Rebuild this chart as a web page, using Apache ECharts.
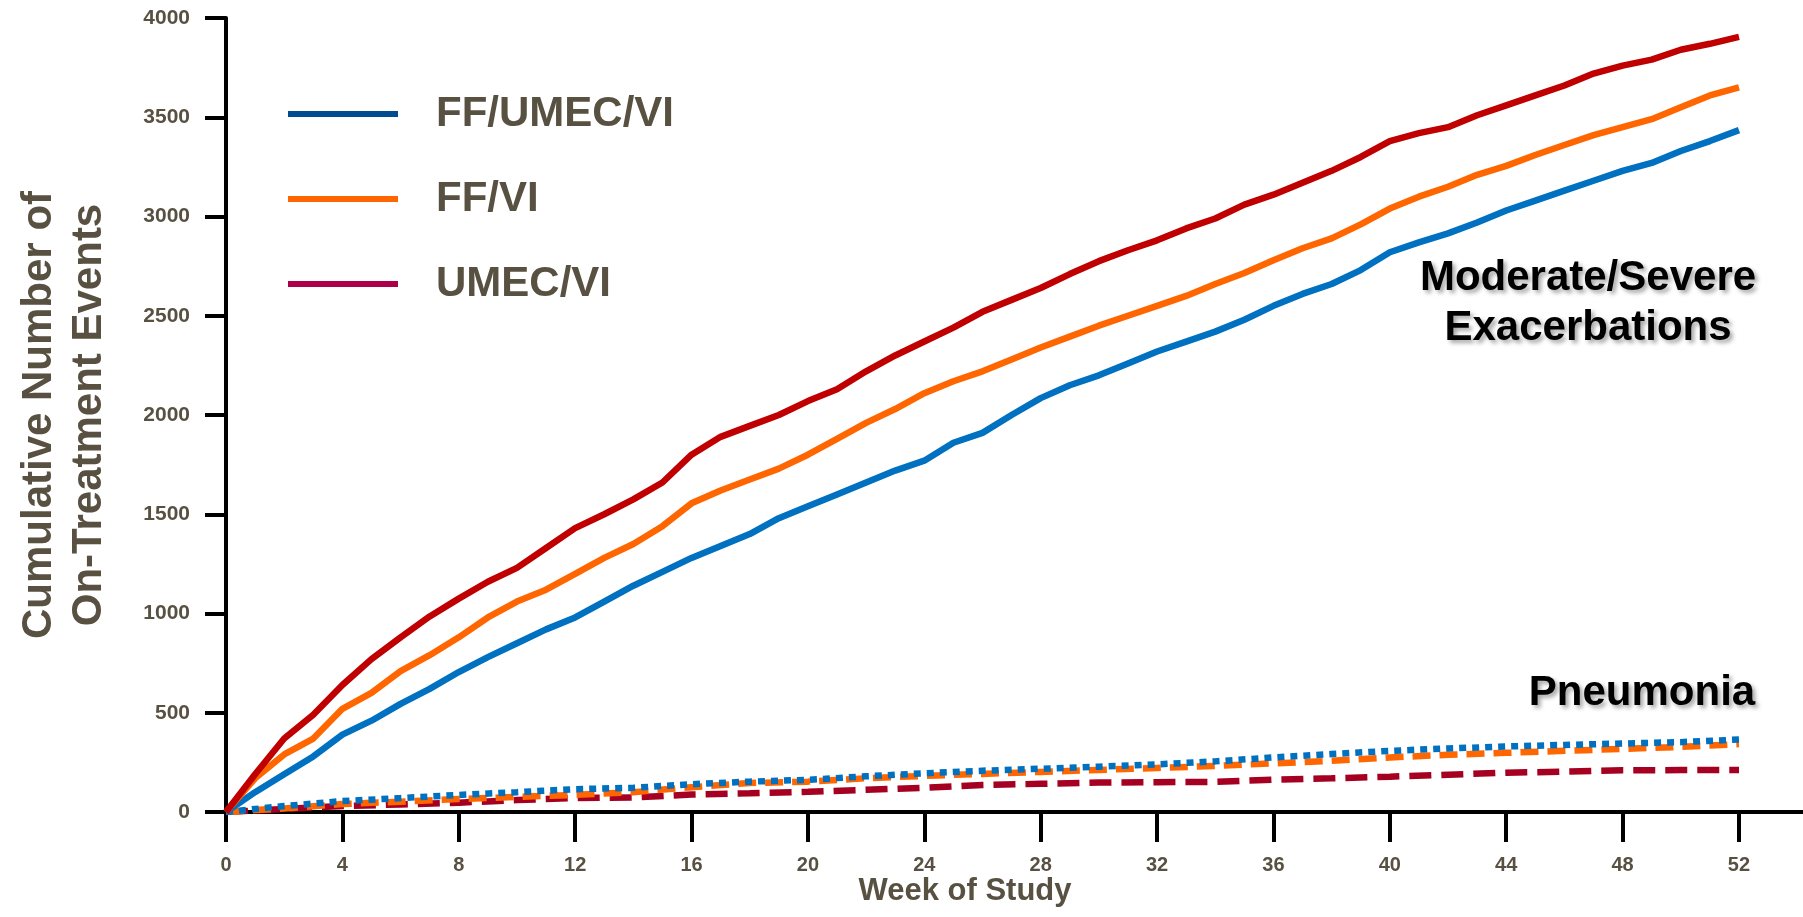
<!DOCTYPE html>
<html>
<head>
<meta charset="utf-8">
<script src="https://cdn.jsdelivr.net/npm/echarts@6/dist/echarts.min.js"></script>
<style>
html,body{margin:0;padding:0;background:#fff;}
#chart{width:1803px;height:917px;}
</style>
</head>
<body>
<div id="chart"></div>
<script>
// ---- data ----
const seriesNames = ['FF/UMEC/VI', 'FF/VI', 'UMEC/VI'];
const xTickLabels = [0, 4, 8, 12, 16, 20, 24, 28, 32, 36, 40, 44, 48, 52];

// Moderate/Severe exacerbations (weekly readings)
const exacWeeks = [0,1,2,3,4,5,6,7,8,9,10,11,12,13,14,15,16,17,18,19,20,21,22,23,24,25,26,
  27,28,29,30,31,32,33,34,35,36,37,38,39,40,41,42,43,44,45,46,47,48,49,50,51,52];
const exacTriple = [0,100,190,280,390,460,545,620,705,780,850,920,980,1060,1140,1210,1280,
  1340,1400,1480,1540,1600,1660,1720,1770,1860,1910,2000,2085,2150,2200,2260,2320,2370,2420,
  2480,2550,2610,2660,2730,2820,2870,2915,2970,3030,3080,3130,3180,3230,3270,3330,3380,3435];
const exacFFVI = [0,170,290,370,520,600,710,790,880,980,1060,1120,1200,1280,1350,1440,1555,
  1620,1675,1730,1800,1880,1960,2030,2110,2170,2220,2280,2340,2395,2450,2500,2550,2600,2660,
  2715,2780,2840,2890,2960,3040,3100,3150,3210,3255,3310,3360,3410,3450,3490,3550,3610,3650];
const exacUMECVI = [0,190,370,490,640,770,880,985,1075,1160,1230,1330,1430,1500,1575,1660,1800,
  1890,1945,2000,2070,2130,2220,2300,2370,2440,2520,2580,2640,2710,2775,2830,2880,2940,2990,
  3060,3110,3170,3230,3300,3380,3420,3450,3510,3560,3610,3660,3720,3760,3790,3840,3870,3905];

// Pneumonia (two-weekly readings)
const pneuWeeks = [0,2,4,6,8,10,12,14,16,18,20,22,24,26,28,30,32,34,36,38,40,42,44,46,48,50,52];
const pneuTriple = [0,30,55,70,86,100,115,122,140,153,162,180,195,208,218,228,240,255,275,292,
  308,320,330,338,345,352,365];
const pneuFFVI = [0,18,40,52,65,76,86,100,125,146,153,170,182,192,202,212,222,232,245,258,275,
  288,298,308,318,328,342];
const pneuUMECVI = [0,15,30,38,47,60,70,73,88,94,102,112,122,136,142,148,150,152,163,170,178,
  188,198,203,210,211,211];

// ---- chart ----
const pair = (xs, ys) => xs.map((x, i) => [x, ys[i]]);
const textColor = '#585142';
const font = '"Liberation Sans", Arial, Helvetica, sans-serif';

const chart = echarts.init(document.getElementById('chart'), null, {renderer: 'canvas'});

function solid(name, xs, ys, color) {
  return {
    name, type: 'line', data: pair(xs, ys), showSymbol: false, symbol: 'none',
    lineStyle: {color, width: 6.5, type: 'solid'}, itemStyle: {color}, z: 3
  };
}
function dashed(name, xs, ys, color, dash) {
  return {
    name, type: 'line', data: pair(xs, ys), showSymbol: false, symbol: 'none',
    lineStyle: {color, width: 6.5, type: dash, cap: 'butt'}, itemStyle: {color}, z: 2
  };
}

const option = {
  animation: false,
  backgroundColor: '#ffffff',
  grid: {left: 226, right: 0, top: 18, bottom: 105, containLabel: false},
  xAxis: {
    type: 'value', min: 0, max: 54.2,
    axisLine: {show: true, lineStyle: {color: '#000', width: 4}},
    axisTick: {show: true, length: 30, lineStyle: {color: '#000', width: 4}, customValues: xTickLabels},
    axisLabel: {customValues: xTickLabels, margin: 43, color: textColor, fontSize: 20,
      fontWeight: 'bold', fontFamily: font, formatter: v => String(v)},
    splitLine: {show: false}
  },
  yAxis: {
    type: 'value', min: 0, max: 4000, interval: 500,
    name: 'Cumulative Number of\nOn-Treatment Events',
    nameLocation: 'middle', nameRotate: 90, nameGap: 112,
    nameTextStyle: {color: textColor, fontSize: 42, fontWeight: 'bold', fontFamily: font, lineHeight: 50},
    axisLine: {show: true, lineStyle: {color: '#000', width: 4}},
    axisTick: {show: true, length: 21, lineStyle: {color: '#000', width: 4}},
    axisLabel: {margin: 36, color: textColor, fontSize: 21, fontWeight: 'bold', fontFamily: font,
      formatter: v => String(v)},
    splitLine: {show: false}
  },
  legend: {
    orient: 'vertical', left: 283, top: 88, itemWidth: 110, itemHeight: 6, itemGap: 43,
    icon: 'rect', selectedMode: false,
    textStyle: {color: textColor, fontSize: 42, fontWeight: 'bold', fontFamily: font,
      lineHeight: 42, padding: [0, 0, 0, 33]},
    data: [
      {name: seriesNames[0], itemStyle: {color: '#004c8f'}},
      {name: seriesNames[1], itemStyle: {color: '#ff6600'}},
      {name: seriesNames[2], itemStyle: {color: '#ad004a'}}
    ]
  },
  title: [
    {text: 'Moderate/Severe\nExacerbations', left: 1588, top: 253, textAlign: 'center', padding: 0,
      textStyle: {color: '#000', fontSize: 42, fontWeight: 'bold', fontFamily: font, lineHeight: 50,
        textShadowColor: 'rgba(0,0,0,0.35)', textShadowBlur: 4, textShadowOffsetX: 3, textShadowOffsetY: 3}},
    {text: 'Pneumonia', left: 1642, top: 668, textAlign: 'center', padding: 0,
      textStyle: {color: '#000', fontSize: 42, fontWeight: 'bold', fontFamily: font, lineHeight: 50,
        textShadowColor: 'rgba(0,0,0,0.35)', textShadowBlur: 4, textShadowOffsetX: 3, textShadowOffsetY: 3}},
    {text: 'Week of Study', left: 965, top: 876, textAlign: 'center', padding: 0,
      textStyle: {color: textColor, fontSize: 31, fontWeight: 'bold', fontFamily: font, lineHeight: 31}}
  ],
  series: [
    dashed(seriesNames[2], pneuWeeks, pneuUMECVI, '#a50021', [22, 10]),
    dashed(seriesNames[1], pneuWeeks, pneuFFVI, '#ff6600', [18, 9]),
    dashed(seriesNames[0], pneuWeeks, pneuTriple, '#0070c0', [7, 6]),
    solid(seriesNames[0], exacWeeks, exacTriple, '#0070c0'),
    solid(seriesNames[1], exacWeeks, exacFFVI, '#ff6600'),
    solid(seriesNames[2], exacWeeks, exacUMECVI, '#c00000')
  ]
};
chart.setOption(option);
</script>
</body>
</html>
